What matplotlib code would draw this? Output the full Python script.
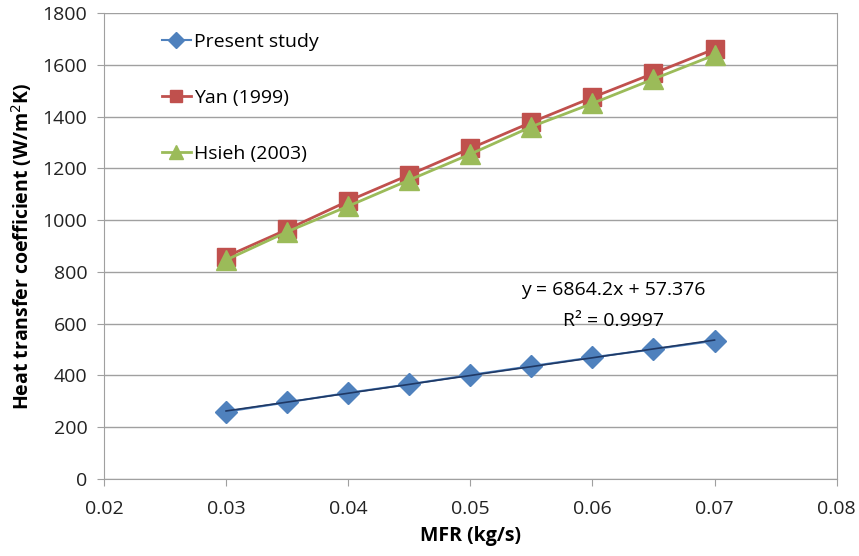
import numpy as np
import matplotlib
matplotlib.use("Agg")
import matplotlib.pyplot as plt

# data
mfr = [0.030, 0.035, 0.040, 0.045, 0.050, 0.055, 0.060, 0.065, 0.070]
present_study = [260, 296, 333, 366, 402, 436, 470, 501, 534]
yan_1999 = [859, 964, 1074, 1175, 1277, 1378, 1474, 1567, 1661]
hsieh_2003 = [846, 955, 1054, 1155, 1255, 1361, 1451, 1545, 1638]

plt.rcParams["font.family"] = ["Open Sans", "DejaVu Sans"]

fig = plt.figure(figsize=(8.59, 5.56), dpi=100)
ax = fig.add_axes([0.121, 0.1385, 0.853, 0.838])

ax.plot(mfr, present_study, color="#4F81BD", marker="D", markersize=11,
        lw=1.5, label="Present study", zorder=3)
ax.plot(mfr, yan_1999, color="#C0504D", marker="s", markersize=13,
        lw=2, label="Yan (1999)", zorder=3)
ax.plot(mfr, hsieh_2003, color="#9BBB59", marker="^", markersize=14,
        lw=2, label="Hsieh (2003)", zorder=4)

# linear trendline for present study
slope, intercept = np.polyfit(mfr, present_study, 1)
xs = np.array([mfr[0], mfr[-1]])
ax.plot(xs, slope * xs + intercept, color="#1F3864", lw=1.2, zorder=5)

ax.text(0.0617, 730, "y = 6864.2x + 57.376", ha="center", va="center", fontsize=14)
ax.text(0.0617, 612, "R² = 0.9997", ha="center", va="center", fontsize=14)

ax.set_xlim(0.02, 0.08)
ax.set_ylim(0, 1800)
ax.set_xticks(np.arange(0.02, 0.081, 0.01))
ax.set_xticklabels(["0.02", "0.03", "0.04", "0.05", "0.06", "0.07", "0.08"])
ax.set_yticks(range(0, 1801, 200))
ax.tick_params(labelsize=14, colors="#222222", length=5, color="#A0A0A0")
ax.tick_params(axis="x", pad=10)
ax.tick_params(axis="y", pad=7)
ax.yaxis.grid(True, color="#A0A0A0", lw=1)
ax.set_axisbelow(True)
for s in ax.spines.values():
    s.set_color("#A0A0A0")
ax.spines["top"].set_visible(False)

ax.set_xlabel("MFR (kg/s)", fontsize=14, fontweight="bold", labelpad=6)
ax.set_ylabel("Heat transfer coefficient (W/m$^2$K)", fontsize=14,
              fontweight="bold", labelpad=6)

ax.legend(loc="upper left", bbox_to_anchor=(0.055, 0.995), frameon=False,
          fontsize=14, handlelength=1.5, handletextpad=0.15, labelspacing=1.95,
          markerscale=0.7)

fig.savefig("out.png", dpi=100)
